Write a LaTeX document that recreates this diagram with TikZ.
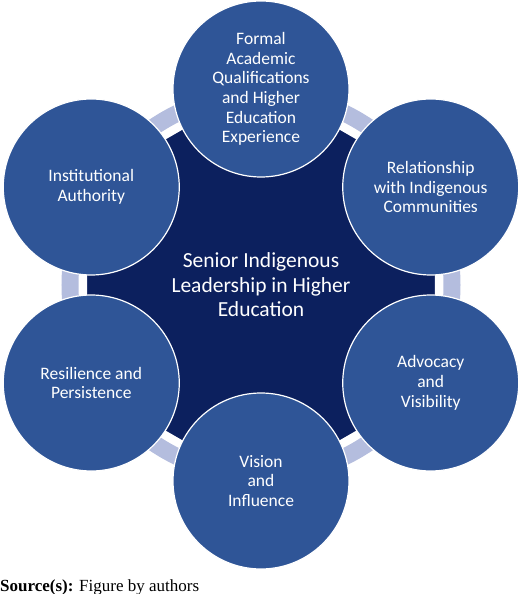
\documentclass[tikz,border=0pt]{standalone}
\usepackage{fontspec}
\setsansfont{Carlito}
\newfontfamily\sourcefont{Liberation Serif}
\usepackage{xcolor}
\usepackage{tikz}
\usetikzlibrary{positioning, calc}

\definecolor{petalblue}{RGB}{47,85,151}
\definecolor{hexnavy}{RGB}{12,32,94}
\definecolor{ringgrey}{RGB}{180,189,222}

\tikzset{
    petal/.style={circle, fill=petalblue, draw=white, line width=1.2pt,
        minimum size=176pt, inner sep=0pt, text=white, align=center,
        font=\sffamily\fontsize{17.5}{19.7}\selectfont},
    centrelabel/.style={text=white, align=center,
        font=\sffamily\fontsize{21.5}{24.5}\selectfont}
}

\begin{document}
\begin{tikzpicture}[x=1pt, y=1pt]
        % Fix page size
        \useasboundingbox (-261,-309) rectangle (259,285);

        % Draw light ring behind everything
        \draw[ringgrey, line width=17pt] (0,0) circle (191);

        % Draw central hexagon
        \filldraw[fill=hexnavy, draw=white, line width=4pt]
            (90:203) -- (30:203) -- (-30:203) -- (-90:203) -- (-150:203) -- (150:203) -- cycle;

        % Centre label
        \node[centrelabel] (centre) at (0,0) {Senior Indigenous\\Leadership in Higher\\Education};

        % Outer circles
        \node[petal] (formal) at (90:196) {Formal\\Academic\\Qualifications\\and Higher\\Education\\Experience};
        \node[petal] (relation) at (30:196) {Relationship\\with Indigenous\\Communities};
        \node[petal] (advocacy) at (-30:196) {Advocacy\\and\\Visibility};
        \node[petal] (vision) at (-90:196) {Vision\\and\\Influence};
        \node[petal] (resilience) at (-150:196) {Resilience and\\Persistence};
        \node[petal] (authority) at (150:196) {Institutional\\Authority};

        % Source line
        \node[anchor=base west, inner sep=0pt, font=\sourcefont\fontsize{17}{20}\selectfont]
            (source) at (-261,-306) {\textbf{Source(s):} Figure by authors};
    \end{tikzpicture}
\end{document}
